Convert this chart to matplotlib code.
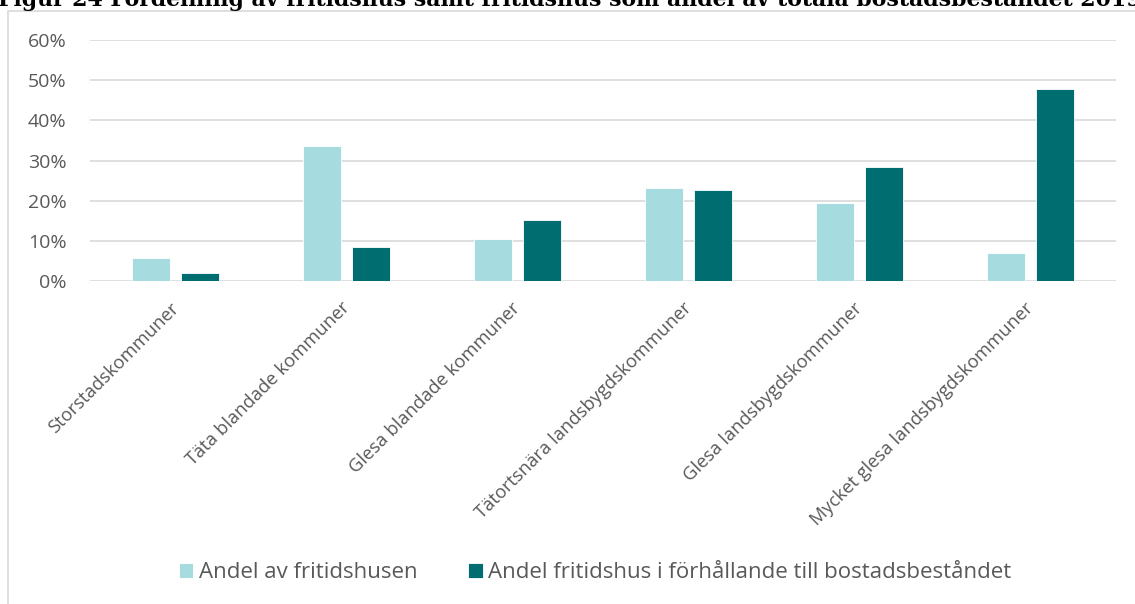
import matplotlib
matplotlib.use("Agg")
import matplotlib.pyplot as plt
import numpy as np
from matplotlib.patches import Rectangle
from matplotlib.ticker import FuncFormatter
from matplotlib.transforms import ScaledTranslation

categories = ["Storstadskommuner", "Täta blandade kommuner", "Glesa blandade kommuner",
              "Tätortsnära landsbygdskommuner", "Glesa landsbygdskommuner",
              "Mycket glesa landsbygdskommuner"]
andel_fritidshus = [5.8, 33.7, 10.5, 23.2, 19.5, 6.9]
andel_bostad = [2.1, 8.5, 15.3, 22.6, 28.3, 47.8]
series_names = ["Andel av fritidshusen", "Andel fritidshus i förhållande till bostadsbeståndet"]
title = "Figur 24 Fördelning av fritidshus samt fritidshus som andel av totala bostadsbeståndet 2019"

W, H = 1135, 604
fig = plt.figure(figsize=(W / 100, H / 100), dpi=100)
fig.patch.set_facecolor("white")

font = "Open Sans"
grey = "#595959"
light = "#A6DCDF"
dark = "#006E70"

# frame
fig.add_artist(Rectangle((8 / W, -0.2), 1.2, 1.2 - 11 / H, transform=fig.transFigure,
                         fill=False, edgecolor="#D9D9D9", linewidth=1.2))

fig.text(-0.002, 1 - 6 / H, title, family="DejaVu Serif", weight="bold", fontsize=15.8,
         va="baseline", ha="left", color="black")

ax = fig.add_axes([90 / W, 1 - 281 / H, (1116 - 90) / W, (281 - 40) / H])
x = np.arange(len(categories))
bw = 0.222
off = 0.143
ax.bar(x - off, andel_fritidshus, bw, color=light, label=series_names[0], zorder=3,
       edgecolor="white", linewidth=0.6)
ax.bar(x + off, andel_bostad, bw, color=dark, label=series_names[1], zorder=3,
       edgecolor="white", linewidth=0.6)
ax.set_xlim(-0.5, len(categories) - 0.5)
ax.set_ylim(0, 60)
ax.set_yticks(np.arange(0, 61, 10))
ax.yaxis.set_major_formatter(FuncFormatter(lambda v, p: f"{int(v)}%"))
ax.grid(axis="y", color="#D9D9D9", linewidth=1.2, zorder=0)
for s in ax.spines.values():
    s.set_visible(False)
ax.tick_params(axis="both", length=0)
ax.tick_params(axis="y", labelsize=14, labelcolor=grey, pad=17)
for lab in ax.get_yticklabels():
    lab.set_family(font)
ax.set_xticks(x)
ax.set_xticklabels(categories, rotation=45, ha="right", rotation_mode="anchor",
                   fontsize=13.2, color=grey, family=font)
ax.tick_params(axis="x", pad=10)
shift = ScaledTranslation(-6 / 100, -4 / 100, fig.dpi_scale_trans)
for lab in ax.get_xticklabels():
    lab.set_transform(lab.get_transform() + shift)

leg = fig.legend(loc="center", bbox_to_anchor=(595 / W, 1 - 573 / H), ncol=2, frameon=False,
                 prop={"family": font, "size": 16}, handlelength=0.65, handleheight=0.65,
                 handletextpad=0.25, columnspacing=2.3, labelcolor=grey)

fig.savefig("out.png", dpi=100, facecolor="white")
